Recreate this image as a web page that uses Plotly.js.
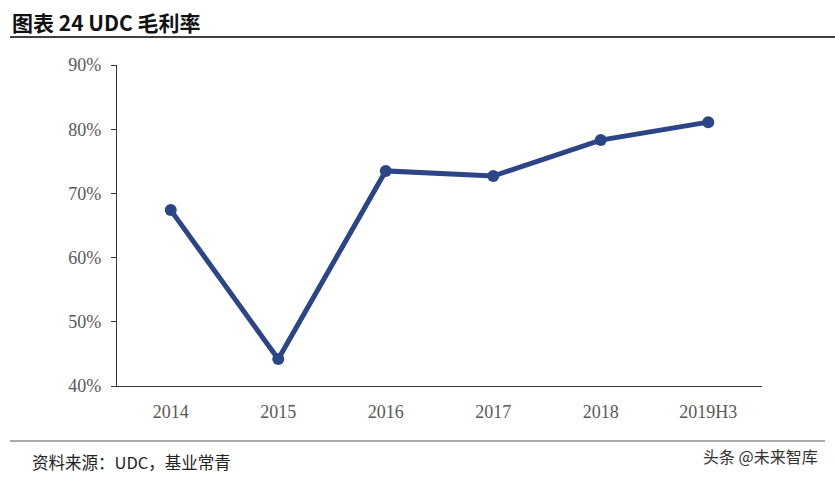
<!DOCTYPE html>
<html><head><meta charset="utf-8">
<script src="https://cdn.plot.ly/plotly-3.0.1.min.js"></script>
<style>html,body{margin:0;padding:0;background:#fff;}#chart{width:835px;height:479px;}</style>
</head><body><div id="chart"></div>
<script>
const categories = ['2014','2015','2016','2017','2018','2019H3'];
const grossMargin = [0.674, 0.442, 0.735, 0.727, 0.783, 0.811];
const yTickVals = [0.4,0.5,0.6,0.7,0.8,0.9];
const yTickText = ['40%','50%','60%','70%','80%','90%'];

const trace = {
  x: categories, y: grossMargin, type: 'scatter', mode: 'lines+markers',
  line: {color: '#2B4587', width: 5},
  marker: {color: '#2B4587', size: 12},
  hoverinfo: 'none', showlegend: false, cliponaxis: false
};
const W = 645, H = 321, L = 117, T = 65;
const px = x => (x - L) / W;
const py = y => (T + H - y) / H;
const layout = {
  width: 835, height: 479,
  margin: {l: L, r: 835 - L - W, t: T, b: 479 - T - H},
  paper_bgcolor: '#fff', plot_bgcolor: '#fff',
  xaxis: {type: 'category', range: [-0.5, 5.5], showline: true, linecolor: '#333', linewidth: 1.2,
    ticks: 'outside', ticklen: 9, tickcolor: 'rgba(0,0,0,0)', showgrid: false, zeroline: false,
    tickfont: {family: 'Liberation Serif, serif', size: 18, color: '#595959'}},
  yaxis: {range: [0.4, 0.9], tickvals: yTickVals, ticktext: yTickText,
    showline: true, linecolor: '#333', linewidth: 1.2, ticks: 'outside', ticklen: 5, tickcolor: '#333',
    showgrid: false, zeroline: false, ticklabelstandoff: 6,
    tickfont: {family: 'Liberation Serif, serif', size: 18, color: '#595959'}},
  shapes: [
    {type: 'line', xref: 'paper', yref: 'paper', x0: px(10), x1: px(835), y0: py(37), y1: py(37), line: {color: '#000', width: 1.5}},
    {type: 'line', xref: 'paper', yref: 'paper', x0: px(10), x1: px(825), y0: py(441), y1: py(441), line: {color: '#555', width: 1.2}}
  ],
  annotations: [
    {text: '<b>图表 24 UDC 毛利率</b>', xref: 'paper', yref: 'paper', x: px(10), y: py(22),
      xanchor: 'left', yanchor: 'middle', showarrow: false,
      font: {family: 'Noto Sans CJK SC, sans-serif', size: 21, color: '#111'}},
    {text: '资料来源：UDC，基业常青', xref: 'paper', yref: 'paper', x: px(30), y: py(462),
      xanchor: 'left', yanchor: 'middle', showarrow: false,
      font: {family: 'Noto Sans CJK SC, sans-serif', size: 16.5, color: '#222'}},
    {text: '头条 @未来智库', xref: 'paper', yref: 'paper', x: px(820), y: py(456),
      xanchor: 'right', yanchor: 'middle', showarrow: false,
      font: {family: 'Noto Sans CJK SC, sans-serif', size: 16, color: '#333'}}
  ]
};
Plotly.newPlot('chart', [trace], layout, {staticPlot: true, displayModeBar: false});
</script></body></html>
